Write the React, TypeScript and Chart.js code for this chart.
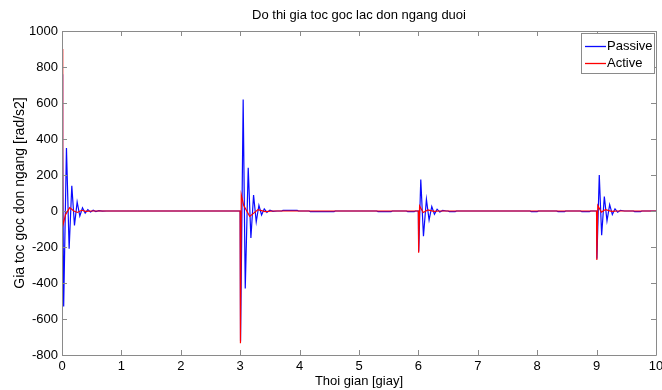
import React, { useEffect, useRef } from "react";
import { Chart, registerables } from "chart.js";

Chart.register(...registerables);

const chartTitle = "Do thi gia toc goc lac don ngang duoi";
const xAxisLabel = "Thoi gian [giay]";
const yAxisLabel = "Gia toc goc don ngang [rad/s2]";
const seriesNames = ["Passive", "Active"];
const seriesColors = ["rgb(10,10,255)", "rgb(255,0,0)"];

const xTickValues = [0, 1, 2, 3, 4, 5, 6, 7, 8, 9, 10];
const yTickValues = [-800, -600, -400, -200, 0, 200, 400, 600, 800, 1000];

// Passive (blue) series: time [s] and value [rad/s2]
const passiveTime = [
  0, 0.01, 0.028, 0.075, 0.12, 0.165, 0.21, 0.255, 0.3, 0.345, 0.39, 0.435, 0.48, 0.525, 0.57, 0.62, 0.68, 0.75,
  2.999, 3.006, 3.05, 3.085, 3.135, 3.18, 3.225, 3.27, 3.315, 3.36, 3.405, 3.45, 3.5, 3.55, 3.62,
  3.7, 3.72, 3.96, 3.98, 4.16, 4.18, 4.58, 4.6,
  5.3, 5.32, 5.54, 5.56, 5.8, 5.82, 5.93, 5.95,
  5.999, 6.005, 6.04, 6.085, 6.135, 6.18, 6.225, 6.27, 6.315, 6.36, 6.41, 6.47,
  6.5, 6.52, 6.62, 6.64,
  7.88, 7.9, 8.0, 8.02, 8.33, 8.35, 8.46, 8.48, 8.73, 8.75, 8.88, 8.9,
  8.999, 9.005, 9.045, 9.085, 9.13, 9.175, 9.22, 9.265, 9.31, 9.355, 9.4, 9.47,
  9.62, 9.64, 9.74, 9.76, 10,
];
const passiveValue = [
  760, 380, -530, 350, -210, 140, -80, 50, -28, 18, -12, 8, -6, 4, -3, 2, -1, 0,
  0, -725, 620, -430, 240, -150, 88, -60, 32, -22, 12, -8, 5, -2, 0,
  0, 4, 4, 0, 0, -4, -4, 0,
  0, -4, -4, 0, 0, -4, -4, 0,
  0, -225, 175, -140, 65, -50, 25, -18, 10, -6, 3, 0,
  0, -4, -4, 0,
  0, -4, -4, 0, 0, -4, -4, 0, 0, -4, -4, 0,
  0, -265, 200, -135, 80, -55, 35, -20, 12, -7, 4, 0,
  0, -4, -4, 0, 0,
];

// Active (red) series
const activeTime = [
  0, 0.012, 0.06, 0.13, 0.2, 0.26, 0.33, 0.4, 0.5,
  2.999, 3.004, 3.018, 3.06, 3.16, 3.3, 3.42, 3.55,
  5.999, 6.004, 6.02, 6.08, 6.16, 6.26, 6.35,
  8.999, 9.004, 9.02, 9.08, 9.15, 9.25, 9.35, 10,
];
const activeValue = [
  900, -85, -20, 18, 0, -8, 4, -2, 0,
  0, -735, 90, 30, -30, 8, -3, 0,
  0, -232, 28, -8, 6, -2, 0,
  0, -272, 30, -6, 8, -2, 0, 0,
];

const FONT = '"Liberation Sans", Arial, sans-serif';

const boxPlugin = {
  id: "matlabBox",
  afterDatasetsDraw(chart: any) {
    const { ctx, chartArea } = chart;
    const { left, right, top, bottom } = chartArea;
    const xs = chart.scales.x;
    const ys = chart.scales.y;
    ctx.save();
    ctx.strokeStyle = "#8a8a8a";
    ctx.lineWidth = 1;
    ctx.beginPath();
    ctx.rect(Math.round(left) + 0.5, Math.round(top) + 0.5, Math.round(right - left), Math.round(bottom - top));
    const tl = 5;
    xTickValues.forEach((v) => {
      const px = Math.round(xs.getPixelForValue(v)) + 0.5;
      ctx.moveTo(px, bottom);
      ctx.lineTo(px, bottom - tl);
      ctx.moveTo(px, top);
      ctx.lineTo(px, top + tl);
    });
    yTickValues.forEach((v) => {
      const py = Math.round(ys.getPixelForValue(v)) + 0.5;
      ctx.moveTo(left, py);
      ctx.lineTo(left + tl, py);
      ctx.moveTo(right, py);
      ctx.lineTo(right - tl, py);
    });
    ctx.stroke();
    ctx.restore();
  },
  afterDraw(chart: any) {
    const { ctx, chartArea } = chart;
    ctx.save();
    // title centred over the plot area
    ctx.fillStyle = "#000";
    ctx.font = `13px ${FONT}`;
    ctx.textAlign = "center";
    ctx.textBaseline = "middle";
    ctx.fillText(chartTitle, (chartArea.left + chartArea.right) / 2, 15);

    // legend box inside the plot area
    const bw = 73;
    const bh = 40;
    const bx = Math.round(chartArea.right) - bw - 2;
    const by = Math.round(chartArea.top) + 2;
    ctx.fillStyle = "#fff";
    ctx.fillRect(bx, by, bw, bh);
    ctx.strokeStyle = "#8a8a8a";
    ctx.lineWidth = 1;
    ctx.strokeRect(bx + 0.5, by + 0.5, bw, bh);
    ctx.font = `13px ${FONT}`;
    ctx.textBaseline = "middle";
    ctx.textAlign = "left";
    chart.data.datasets.forEach((ds: any, i: number) => {
      const ly = by + 13 + i * 17;
      ctx.strokeStyle = ds.borderColor;
      ctx.lineWidth = 1.3;
      ctx.beginPath();
      ctx.moveTo(bx + 4, ly + 0.5);
      ctx.lineTo(bx + 25, ly + 0.5);
      ctx.stroke();
      ctx.fillStyle = "#000";
      ctx.fillText(ds.label, bx + 26, ly);
    });
    ctx.restore();
  },
};

export default function App() {
  const ref = useRef<HTMLCanvasElement | null>(null);
  useEffect(() => {
    document.body.style.margin = "0";
    const canvas = ref.current;
    if (!canvas) return;
    const toPoints = (t: number[], v: number[]) => t.map((x, i) => ({ x, y: v[i] }));
    const chart = new Chart(canvas, {
      type: "line",
      data: {
        datasets: [
          {
            label: seriesNames[0],
            data: toPoints(passiveTime, passiveValue),
            borderColor: seriesColors[0],
            borderWidth: 1.2,
            pointRadius: 0,
            tension: 0,
            order: 1,
          },
          {
            label: seriesNames[1],
            data: toPoints(activeTime, activeValue),
            borderColor: seriesColors[1],
            borderWidth: 1.2,
            pointRadius: 0,
            tension: 0,
            order: 0,
          },
        ],
      },
      options: {
        responsive: false,
        animation: false,
        events: [],
        layout: { padding: { left: 0, right: 6, top: 31, bottom: 0 } },
        plugins: {
          legend: { display: false },
          tooltip: { enabled: false },
          title: { display: false },
        },
        scales: {
          x: {
            type: "linear",
            min: 0,
            max: 10,
            grid: { display: false, drawTicks: false },
            border: { display: false },
            afterBuildTicks: (s: any) => {
              s.ticks = xTickValues.map((v) => ({ value: v }));
            },
            afterFit: (s: any) => {
              s.height = 35;
              s.paddingLeft = 0;
              s.paddingRight = 0;
            },
            ticks: {
              color: "#000",
              font: { family: FONT, size: 13 },
              padding: 4,
              maxRotation: 0,
              autoSkip: false,
              callback: (v: any) => String(v),
            },
            title: {
              display: true,
              text: xAxisLabel,
              color: "#000",
              font: { family: FONT, size: 13 },
              padding: { top: 0, bottom: 1 },
            },
          },
          y: {
            type: "linear",
            min: -800,
            max: 1000,
            grid: { display: false, drawTicks: false },
            border: { display: false },
            afterBuildTicks: (s: any) => {
              s.ticks = yTickValues.map((v) => ({ value: v }));
            },
            afterFit: (s: any) => {
              s.width = 62;
              s.paddingTop = 0;
              s.paddingBottom = 0;
            },
            ticks: {
              color: "#000",
              font: { family: FONT, size: 13 },
              padding: 4,
              autoSkip: false,
              callback: (v: any) => String(v),
            },
            title: {
              display: true,
              text: yAxisLabel,
              color: "#000",
              font: { family: FONT, size: 14 },
              padding: { top: 12, bottom: 0 },
            },
          },
        },
      },
      plugins: [boxPlugin],
    });
    return () => chart.destroy();
  }, []);
  return (
    <div style={{ width: 662, height: 390, background: "#fff" }}>
      <canvas ref={ref} width={662} height={390} style={{ display: "block" }} />
    </div>
  );
}
